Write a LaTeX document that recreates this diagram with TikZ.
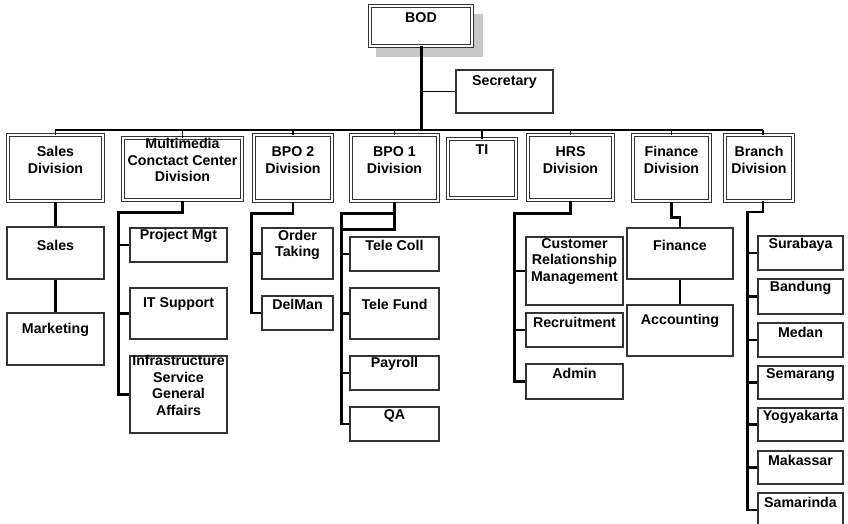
\documentclass[tikz,border=0pt]{standalone}
\usepackage{fontspec}
\setmainfont{Liberation Sans}

% \orgbox{style}{name}{x1}{y1}{x2}{y2}{label y}{label}
\newcommand\orgbox[8]{%
  \node[#1, minimum width={(#5)-(#3)}, minimum height={(#6)-(#4)}] (#2)
    at ({((#3)+(#5))/2},{((#4)+(#6))/2}) {};
  \node[lbl] (#2-label) at ({((#3)+(#5))/2},{#7}) {#8};}

\begin{document}
\begin{tikzpicture}[x=1pt,y=-1pt,
  lbl/.style={font=\fontsize{14.2}{16.5}\selectfont\bfseries, align=center, inner sep=0pt},
  unit/.style={draw=black!80, line width=1.2pt, fill=white, inner sep=0pt},
  division/.style={draw=black!80, line width=1pt, double=white,
    double distance=1.5pt, fill=white, inner sep=0pt},
  trunk/.style={line width=3pt},
  bus/.style={line width=2pt},
  link/.style={line width=2.4pt},
  drop/.style={line width=1.3pt},
  thinlink/.style={line width=1pt}]

\useasboundingbox (0,0) rectangle (848,524);
\clip (0,0) rectangle (848,524);
\fill[white] (0,0) rectangle (848,524);

% board of directors with its drop shadow
\fill[black!22] (376,14) rectangle (483,57);
\orgbox{division}{bod}{370}{6}{472}{46}{18}{BOD}
\orgbox{unit}{sec}{456}{70}{553}{113}{82}{Secretary}

% divisions
\orgbox{division}{sales}{8}{135}{103}{201}{160}{Sales\\Division}
\orgbox{division}{mm}{123}{138}{242}{200}{160}{Multimedia\\Conctact Center\\Division}
\orgbox{division}{bpo2}{254}{135}{332}{201}{160}{BPO 2\\Division}
\orgbox{division}{bpo1}{351}{135}{438}{201}{160}{BPO 1\\Division}
\orgbox{division}{ti}{448}{139}{516}{198}{150}{TI}
\orgbox{division}{hrs}{528}{135}{613}{200}{160}{HRS\\Division}
\orgbox{division}{fin}{633}{135}{710}{201}{160}{Finance\\Division}
\orgbox{division}{branch}{725}{135}{793}{201}{160}{Branch\\Division}

% sales units
\orgbox{unit}{salesu}{7}{227}{104}{279}{245}{Sales}
\orgbox{unit}{mkt}{7}{313}{104}{365}{330}{Marketing}

% multimedia units
\orgbox{unit}{pm}{130}{228}{227}{262}{236}{Project Mgt}
\orgbox{unit}{its}{130}{288}{227}{339}{304}{IT Support}
\orgbox{unit}{infra}{130}{356}{227}{433}{385.5}{Infrastructure\\Service\\General\\Affairs}

% BPO 2 units
\orgbox{unit}{ot}{262}{228}{333}{279}{245}{Order\\Taking}
\orgbox{unit}{dm}{262}{296}{333}{330}{304}{DelMan}

% BPO 1 units
\orgbox{unit}{tc}{350}{237}{439}{271}{245}{Tele Coll}
\orgbox{unit}{tf}{350}{288}{439}{339}{304}{Tele Fund}
\orgbox{unit}{pay}{350}{356}{439}{390}{364}{Payroll}
\orgbox{unit}{qa}{350}{407}{439}{441}{416}{QA}

% HRS units
\orgbox{unit}{crm}{526}{237}{623}{305}{261.5}{Customer\\Relationship\\Management}
\orgbox{unit}{rec}{526}{313}{623}{347}{322}{Recruitment}
\orgbox{unit}{adm}{526}{364}{623}{399}{373}{Admin}

% finance units
\orgbox{unit}{finu}{627}{228}{733}{279}{245}{Finance}
\orgbox{unit}{acc}{627}{305}{733}{356}{321}{Accounting}

% branch offices
\orgbox{unit}{sby}{758}{236}{843}{270}{245}{Surabaya}
\orgbox{unit}{bdg}{758}{279}{843}{314}{288}{Bandung}
\orgbox{unit}{mdn}{758}{323}{843}{357}{332}{Medan}
\orgbox{unit}{smg}{758}{366}{843}{399}{375}{Semarang}
\orgbox{unit}{ygy}{758}{408}{843}{441}{417}{Yogyakarta}
\orgbox{unit}{mks}{758}{451}{843}{484}{460}{Makassar}
\orgbox{unit}{smr}{758}{493}{843}{527}{502}{Samarinda}

% top of the tree
\coordinate (busL) at (55,130);
\coordinate (busR) at (763,130);
\coordinate (brtop) at (763,135);
\coordinate (brbot) at (763,201);
\draw[trunk] (bod.south) -- (bod.south |- busL);
\draw[thinlink] (sec.west) -- (sec.west -| bod.south);
\draw[bus] (busL) -- (busR);
\foreach \d in {sales,mm,bpo2,bpo1,ti,hrs,fin}
  \draw[drop] (\d.north |- busL) -- (\d.north);
\draw[drop] (busR) -- (brtop);

% sales chain
\draw[link] (sales.south) -- (salesu.north);
\draw[link] (salesu.south) -- (mkt.north);

% multimedia spine
\draw[link] (mm.south) -- ++(0,12) -| ([xshift=-11pt]infra.west) -- (infra.west);
\foreach \u in {pm,its}
  \draw[link] (\u.west) -- ++(-11,0);

% BPO 2 spine
\draw[link] (bpo2.south) -- ++(0,12) -| ([xshift=-10pt]dm.west) -- (dm.west);
\draw[link] (ot.west) -- ++(-10,0);

% BPO 1 spine with its double branch-off
\draw[link] (bpo1.south) -- ++(0,28) -- ++(-52,0);
\draw[link] ([yshift=-12pt]bpo1.south) -| ([xshift=-8pt]qa.west) -- (qa.west);
\foreach \u in {tc,tf,pay}
  \draw[link] (\u.west) -- ++(-8,0);

% HRS spine
\draw[link] (hrs.south) -- ++(0,13) -| ([xshift=-11pt]adm.west) -- (adm.west);
\foreach \u in {crm,rec}
  \draw[link] (\u.west) -- ++(-11,0);

% finance chain
\draw[link] (fin.south) -- ++(0,16) -| (finu.north);
\draw[link] (finu.south) -- (acc.north);

% branch spine
\draw[link] (brbot) -- ++(0,11) -| ([xshift=-10pt]smr.west) -- (smr.west);
\foreach \u in {sby,bdg,mdn,smg,ygy,mks}
  \draw[link] (\u.west) -- ++(-10,0);
\end{tikzpicture}
\end{document}
